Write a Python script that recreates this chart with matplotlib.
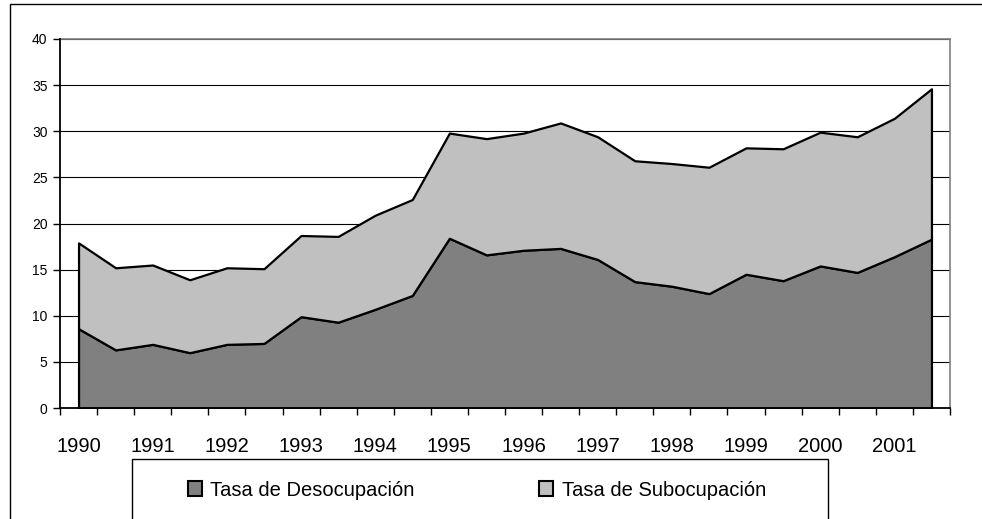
import numpy as np
import matplotlib
matplotlib.use("Agg")
import matplotlib.pyplot as plt
import matplotlib.patches as patches

plt.rcParams['font.family'] = ['Liberation Sans', 'DejaVu Sans']

# datos semestrales (mayo / octubre) 1990-2001
anios = ['1990', '1991', '1992', '1993', '1994', '1995',
         '1996', '1997', '1998', '1999', '2000', '2001']
desocupacion = [8.6, 6.3, 6.9, 6.0, 6.9, 7.0, 9.9, 9.3, 10.7, 12.2, 18.4, 16.6,
                17.1, 17.3, 16.1, 13.7, 13.2, 12.4, 14.5, 13.8, 15.4, 14.7, 16.4, 18.3]
subocupacion = [9.3, 8.9, 8.6, 7.9, 8.3, 8.1, 8.8, 9.3, 10.2, 10.4, 11.4, 12.6,
                12.7, 13.6, 13.3, 13.1, 13.3, 13.7, 13.7, 14.3, 14.5, 14.7, 15.0, 16.3]
series = ['Tasa de Desocupación', 'Tasa de Subocupación']
colores = ['#808080', '#c0c0c0']

W, H = 982, 519
fig = plt.figure(figsize=(W / 100, H / 100), dpi=100)
ax = fig.add_axes([60 / W, 1 - 408 / H, 890 / W, 369 / H])

x = np.arange(len(desocupacion))

# rejilla
for v in range(5, 45, 5):
    ax.axhline(v, color='black', lw=0.8, zorder=1)

ax.stackplot(x, desocupacion, subocupacion, colors=colores,
             edgecolor='black', linewidth=1.6, zorder=2)

ax.set_xlim(-0.5, len(x) - 0.5)
ax.set_ylim(0, 40)
ax.set_yticks(range(0, 45, 5))
ax.tick_params(axis='y', direction='out', length=5, width=1, pad=4, labelsize=10)

ax.set_xticks(x[::2])
ax.set_xticklabels(anios)
ax.set_xticks(np.arange(-0.5, len(x), 1), minor=True)
ax.tick_params(axis='x', which='major', length=0, pad=21, labelsize=14.5)
ax.tick_params(axis='x', which='minor', direction='out', length=5, width=1)

for s in ['top', 'right']:
    ax.spines[s].set_color('#808080')
    ax.spines[s].set_linewidth(1.2)
for s in ['left', 'bottom']:
    ax.spines[s].set_color('black')
    ax.spines[s].set_linewidth(1.3)
    ax.spines[s].set_zorder(5)

# marco exterior del grafico
fig.patches.append(patches.Rectangle((10 / W, -0.2), 1.2, 1.2 - 4 / H,
                                     transform=fig.transFigure, fill=False,
                                     edgecolor='black', lw=1))
# cuadro de la leyenda
fig.patches.append(patches.Rectangle((132 / W, -0.2), (828 - 132) / W, 0.2 + 1 - 459 / H,
                                     transform=fig.transFigure, fill=False,
                                     edgecolor='black', lw=1))

handles = [patches.Patch(facecolor=c, edgecolor='black', lw=1.5) for c in colores]
fig.legend(handles, series, loc='center left', frameon=False,
           bbox_to_anchor=(188 / W, 1 - 490 / H), borderaxespad=0, borderpad=0,
           ncol=2, fontsize=14.5, handlelength=0.7, handleheight=0.7,
           handletextpad=0.4, columnspacing=6.2)

plt.savefig('out.png', dpi=100)
